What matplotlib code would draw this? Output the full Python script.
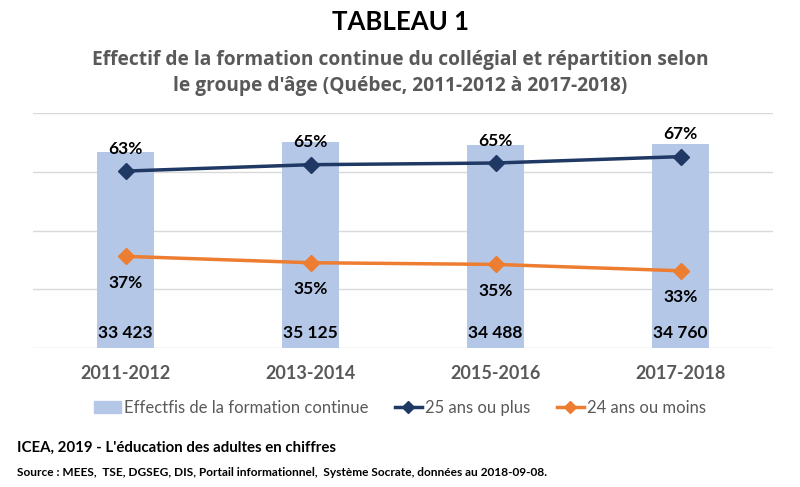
import numpy as np
import matplotlib
matplotlib.use("Agg")
from matplotlib import pyplot as plt
from matplotlib.lines import Line2D
from matplotlib.patches import Patch

annees = ["2011-2012", "2013-2014", "2015-2016", "2017-2018"]
effectifs = [33423, 35125, 34488, 34760]
plus_25 = [62.7, 64.6, 65.1, 67.0]
moins_24 = [37.3, 35.4, 34.9, 33.0]

BAR = "#b4c7e7"
NAVY = "#203864"
ORANGE = "#ed7d31"
GRAY = "#595959"

plt.rcParams['font.family'] = ['Lato', 'DejaVu Sans']

fig = plt.figure(figsize=(8, 4.87), dpi=100)
ax = fig.add_axes([33 / 800, 1 - 348 / 487, (773 - 33) / 800, (348 - 113) / 487])
ax2 = ax.twinx()

x = np.arange(len(annees))
ax.bar(x, effectifs, width=0.31, color=BAR, zorder=2)
ax.set_ylim(0, 40000)
ax.set_yticks(np.arange(0, 40001, 10000))
ax.set_xlim(-0.5, 3.5)
ax.grid(axis='y', color='#d9d9d9', lw=1, zorder=0)
ax.set_axisbelow(True)
for s in ax.spines.values():
    s.set_visible(False)
ax.tick_params(axis='y', left=False, labelleft=False)
ax.tick_params(axis='x', length=0, pad=12)
ax.set_xticks(x)
ax.set_xticklabels(annees, fontsize=13, fontweight='bold', color=GRAY)

# effectifs en bas des barres
for xi, v in zip(x, effectifs):
    ax.text(xi, 2500, f"{v:,}".replace(",", " "), ha='center', va='center',
            fontsize=12.5, fontweight='bold', color='black', zorder=5)

ax2.plot(x, plus_25, color=NAVY, lw=2.5, marker='D', ms=8, zorder=4)
ax2.plot(x, moins_24, color=ORANGE, lw=2.5, marker='D', ms=8, zorder=4)
ax2.set_ylim(10, 80)
ax2.axis('off')

for xi, a, b in zip(x, plus_25, moins_24):
    ax2.annotate(f"{a:.0f}%", (xi, a), xytext=(0, 16), textcoords='offset points',
                 ha='center', va='center', fontsize=12.5, fontweight='bold')
    ax2.annotate(f"{b:.0f}%", (xi, b), xytext=(0, -19), textcoords='offset points',
                 ha='center', va='center', fontsize=12.5, fontweight='bold')

fig.text(0.5, 1 - 22 / 487, "TABLEAU 1", ha='center', va='center',
         fontsize=18.5, fontweight='bold', color='black')
fig.text(0.5, 1 - 73 / 487,
         "Effectif de la formation continue du collégial et répartition selon\n"
         "le groupe d'âge (Québec, 2011-2012 à 2017-2018)",
         ha='center', va='center', fontsize=13.8, fontweight='bold', color=GRAY,
         linespacing=1.4, family=['Open Sans', 'DejaVu Sans'])

handles = [Patch(color=BAR),
           Line2D([], [], color=NAVY, lw=2.5, marker='D', ms=6),
           Line2D([], [], color=ORANGE, lw=2.5, marker='D', ms=6)]
labels = ["Effectfis de la formation continue", "25 ans ou plus", "24 ans ou moins"]
fig.legend(handles, labels, loc='center', bbox_to_anchor=(0.5, 1 - 408 / 487),
           ncol=3, frameon=False, fontsize=12, labelcolor=GRAY,
           handlelength=1.6, handletextpad=0.2, columnspacing=1.6)

fig.text(17 / 800, 1 - 448 / 487, "ICEA, 2019 - L'éducation des adultes en chiffres",
         ha='left', va='center', fontsize=10.8, fontweight='bold', color='black')
fig.text(17 / 800, 1 - 472 / 487,
         "Source : MEES,  TSE, DGSEG, DIS, Portail informationnel,  Système Socrate, données au 2018-09-08.",
         ha='left', va='center', fontsize=8.6, fontweight='bold', color='black')

fig.savefig("out.png", dpi=100, facecolor='white')
